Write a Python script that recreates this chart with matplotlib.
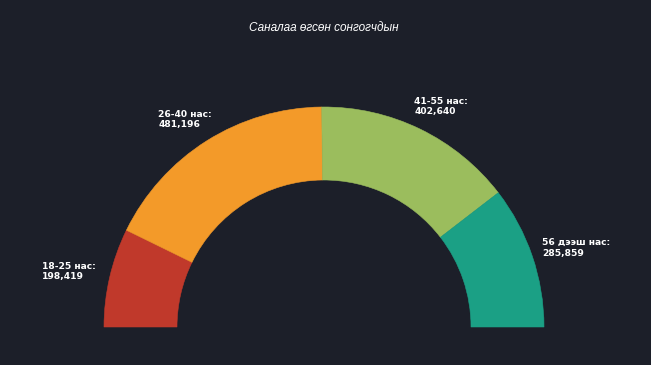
import numpy as np
import matplotlib.pyplot as plt
from matplotlib.patches import Wedge

# Data
groups = ["18-25 нас", "26-40 нас", "41-55 нас", "56 дээш нас"]
votes = [198419, 481196, 402640, 285859]
colors = ["#c0392b", "#f39a29", "#9bbd5d", "#1ba085"]
title = "Саналаа өгсөн сонгогчдын"

bg = "#1c1f29"
fig = plt.figure(figsize=(6.51, 3.65), dpi=100, facecolor=bg)
ax = fig.add_axes([0, 0, 1, 1])
ax.set_facecolor(bg)
ax.set_xlim(0, 651)
ax.set_ylim(0, 365)
ax.axis("off")

# half donut geometry (pixel units)
cx, cy = 324, 38
r_out, r_in = 220, 147

vals = np.array(votes, dtype=float)
frac = vals / vals.sum()
ends = 180 - np.cumsum(frac) * 180
starts = np.concatenate([[180], ends[:-1]])

for g, v, s, e, c in zip(groups, votes, starts, ends, colors):
    ax.add_patch(Wedge((cx, cy), r_out, e, s, width=r_out - r_in,
                       facecolor=c, edgecolor=c, linewidth=0.4))
    # labels sit on a slightly flattened arc outside the ring
    mid = np.radians((s + e) / 2)
    lx = cx + 2 + 264 * np.cos(mid)
    ly = cy + 245 * np.sin(mid)
    ax.text(lx, ly, f"{g}:\n{v:,}", color="white", fontsize=6.6,
            fontweight="bold", ha="center", va="center",
            multialignment="left", linespacing=1.2)

ax.text(324, 337, title, color="white", fontsize=8.5, style="italic",
        family="Liberation Sans", ha="center", va="center")

fig.savefig("out.png", dpi=100, facecolor=bg)
